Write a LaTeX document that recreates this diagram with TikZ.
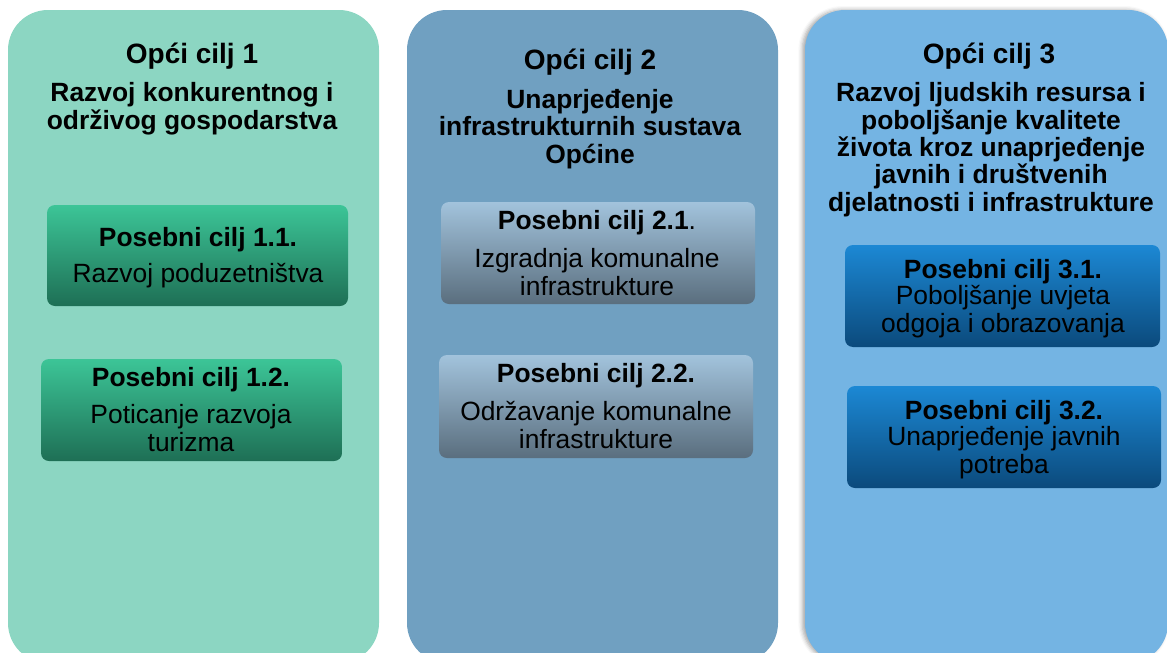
\documentclass[tikz,border=0pt]{standalone}
\usepackage{fontspec}
\setmainfont{Liberation Sans}
\usetikzlibrary{shadows.blur}

\definecolor{panelgreen}{HTML}{8CD6C2}
\definecolor{panelsteel}{HTML}{70A0C1}
\definecolor{panelsky}{HTML}{74B4E3}
\definecolor{greentop}{HTML}{3CC597}
\definecolor{greenbot}{HTML}{1E6F55}
\definecolor{steeltop}{HTML}{A2C3DC}
\definecolor{steelbot}{HTML}{5A6E7E}
\definecolor{bluetop}{HTML}{1C88D4}
\definecolor{bluebot}{HTML}{0B4A7C}

\begin{document}
\begin{tikzpicture}[x=0.75pt, y=-0.75pt,
  every node/.style={inner sep=0pt, outer sep=0pt, anchor=base, align=center},
  panel/.style={rounded corners=30pt},
  subbox/.style={rounded corners=6pt},
  titletext/.style={font=\fontsize{21}{22}\selectfont\bfseries},
  goaltext/.style={font=\fontsize{19.8}{20.5}\selectfont\bfseries},
  headtext/.style={font=\fontsize{19.8}{20.5}\selectfont\bfseries},
  bodytext/.style={font=\fontsize{19.8}{20.5}\selectfont}]
\useasboundingbox (0,0) rectangle (1167,653);
\clip (0,0) rectangle (1167,653);

\fill[panel, fill=panelgreen] (8,10) rectangle (379,663);
\fill[panel, fill=panelsteel] (407,10) rectangle (778,663);
\fill[panel, fill=panelsky, blur shadow={shadow xshift=-2pt, shadow yshift=0pt, shadow blur radius=3pt, shadow opacity=35}] (805,10) rectangle (1168,663);

\shade[subbox, top color=greentop, bottom color=greenbot] (47,205) rectangle (348,306);
\shade[subbox, top color=greentop, bottom color=greenbot] (41,359) rectangle (342,461);
\shade[subbox, top color=steeltop, bottom color=steelbot] (441,202) rectangle (755,304);
\shade[subbox, top color=steeltop, bottom color=steelbot] (439,355) rectangle (753,458);
\shade[subbox, top color=bluetop, bottom color=bluebot] (845,245) rectangle (1160,347);
\shade[subbox, top color=bluetop, bottom color=bluebot] (847,386) rectangle (1161,488);

\node[titletext] (opci1) at (192,63) {Opći cilj 1};
\node[goaltext] (cilj1) at (192,129) {Razvoj konkurentnog i\\održivog gospodarstva};
\node[titletext] (opci2) at (590,69) {Opći cilj 2};
\node[goaltext] (cilj2) at (590,163) {Unaprjeđenje\\infrastrukturnih sustava\\Općine};
\node[titletext] (opci3) at (989,63) {Opći cilj 3};
\node[goaltext] (cilj3) at (991,211) {Razvoj ljudskih resursa i\\poboljšanje kvalitete\\života kroz unaprjeđenje\\javnih i društvenih\\djelatnosti i infrastrukture};

\node[headtext] (pos11) at (198,246) {Posebni cilj 1.1.};
\node[bodytext] (txt11) at (198,282) {Razvoj poduzetništva};
\node[headtext] (pos12) at (191,386) {Posebni cilj 1.2.};
\node[bodytext] (txt12) at (191,451) {Poticanje razvoja\\turizma};

\node[headtext] (pos21) at (597,229) {Posebni cilj 2.1\textmd{.}};
\node[bodytext] (txt21) at (597,295) {Izgradnja komunalne\\infrastrukture};
\node[headtext] (pos22) at (596,382) {Posebni cilj 2.2.};
\node[bodytext] (txt22) at (596,448) {Održavanje komunalne\\infrastrukture};

\node[headtext] (pos31) at (1003,278) {Posebni cilj 3.1.};
\node[bodytext] (txt31) at (1003,332) {Poboljšanje uvjeta\\odgoja i obrazovanja};
\node[headtext] (pos32) at (1004,419) {Posebni cilj 3.2.};
\node[bodytext] (txt32) at (1004,473) {Unaprjeđenje javnih\\potreba};
\end{tikzpicture}
\end{document}
